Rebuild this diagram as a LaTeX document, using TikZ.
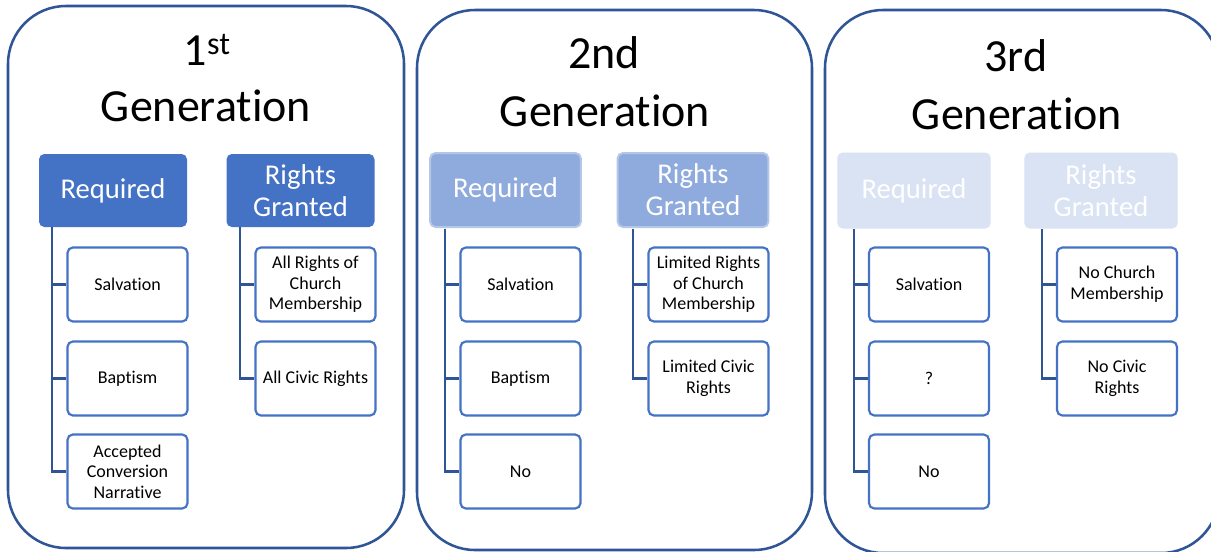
\documentclass[tikz,border=0pt]{standalone}
\usepackage{fontspec}
\setmainfont{Carlito}[Ligatures=NoCommon]
\definecolor{accent}{HTML}{4472C4}
\definecolor{pborder}{HTML}{2F5597}
\definecolor{lineblue}{HTML}{2F5597}
\definecolor{midfill}{HTML}{8FAADC}
\definecolor{midborder}{HTML}{B4C7E7}
\definecolor{lightfill}{HTML}{DAE3F3}
\begin{document}
\begin{tikzpicture}[x=0.75pt,y=-0.75pt,
  panel/.style={draw=pborder, line width=1.9pt, rounded corners=43.5pt},
  hdr/.style={rounded corners=4pt, text=white, align=center, inner sep=0pt,
    font=\fontsize{21.5}{24}\selectfont},
  hdrA/.style={hdr, fill=accent, minimum width=111pt, minimum height=54.75pt},
  hdrB/.style={hdr, fill=midfill, draw=midborder, line width=1.5pt, minimum width=113pt, minimum height=55.5pt},
  hdrC/.style={hdr, fill=lightfill, minimum width=115pt, minimum height=57pt},
  child/.style={draw=accent, line width=1.6pt, fill=white, rounded corners=4pt,
    minimum width=90pt, minimum height=55.5pt, inner sep=0pt, align=center,
    font=\fontsize{13.5}{15.5}\selectfont},
  conn/.style={draw=lineblue, line width=2.2pt},
  gtitle/.style={font=\fontsize{34.5}{40}\selectfont, anchor=base, inner sep=0pt}]
\clip (0,0) rectangle (1211,551);
\useasboundingbox (0,0) rectangle (1211,551);
\fill[white] (0,0) rectangle (1211,551);

% panels
\draw[panel] (8,6) rectangle (404,548);
\draw[panel] (417,10) rectangle (812,550);
\draw[panel] (825,10) rectangle (1219,553);

% titles
\node[gtitle] (t1a) at (207,65) {1\raisebox{0.5ex}{\fontsize{24}{24}\selectfont st}};
\node[gtitle] (t1b) at (206,121.5) {Generation};
\node[gtitle] (t2a) at (604,68) {2nd};
\node[gtitle] (t2b) at (605,126) {Generation};
\node[gtitle] (t3a) at (1016,71) {3rd};
\node[gtitle] (t3b) at (1017,129) {Generation};

% headers
\node[hdrA] (r1) at (113,190.5) {Required};
\node[hdrA] (g1) at (300.5,190.5) {Rights\\Granted};
\node[hdrB] (r2) at (505.5,190) {Required};
\node[hdrB] (g2) at (693,190) {Rights\\Granted};
\node[hdrC] (r3) at (914,190.5) {Required};
\node[hdrC] (g3) at (1101,190.5) {Rights\\Granted};

% trunk tops
\coordinate (k1) at (52,227);
\coordinate (q1) at (240,227);
\coordinate (k2) at (445,228.5);
\coordinate (q2) at (633,228.5);
\coordinate (k3) at (854,229);
\coordinate (q3) at (1042,229);

% children
\node[child] (a11) at (127.5,284.5) {Salvation};
\node[child] (a12) at (127.5,378.5) {Baptism};
\node[child] (a13) at (127.5,471.5) {Accepted\\Conversion\\Narrative};
\node[child] (b11) at (315.5,284.5) {All Rights of\\Church\\Membership};
\node[child] (b12) at (315.5,378.5) {All Civic Rights};

\node[child] (a21) at (520.5,284.5) {Salvation};
\node[child] (a22) at (520.5,378.5) {Baptism};
\node[child] (a23) at (520.5,471.5) {No};
\node[child] (b21) at (708.5,284.5) {Limited Rights\\of Church\\Membership};
\node[child] (b22) at (708.5,378.5) {Limited Civic\\Rights};

\node[child] (a31) at (929,284.5) {Salvation};
\node[child] (a32) at (929,378.5) {?};
\node[child] (a33) at (929,471.5) {No};
\node[child] (b31) at (1117,284.5) {No Church\\Membership};
\node[child] (b32) at (1117,378.5) {No Civic\\Rights};

% connectors
\foreach \k/\c in {k1/a11,k1/a12,k1/a13,q1/b11,q1/b12,
                   k2/a21,k2/a22,k2/a23,q2/b21,q2/b22,
                   k3/a31,k3/a32,k3/a33,q3/b31,q3/b32}{
  \draw[conn] (\k) |- (\c.west);
}
\end{tikzpicture}
\end{document}
